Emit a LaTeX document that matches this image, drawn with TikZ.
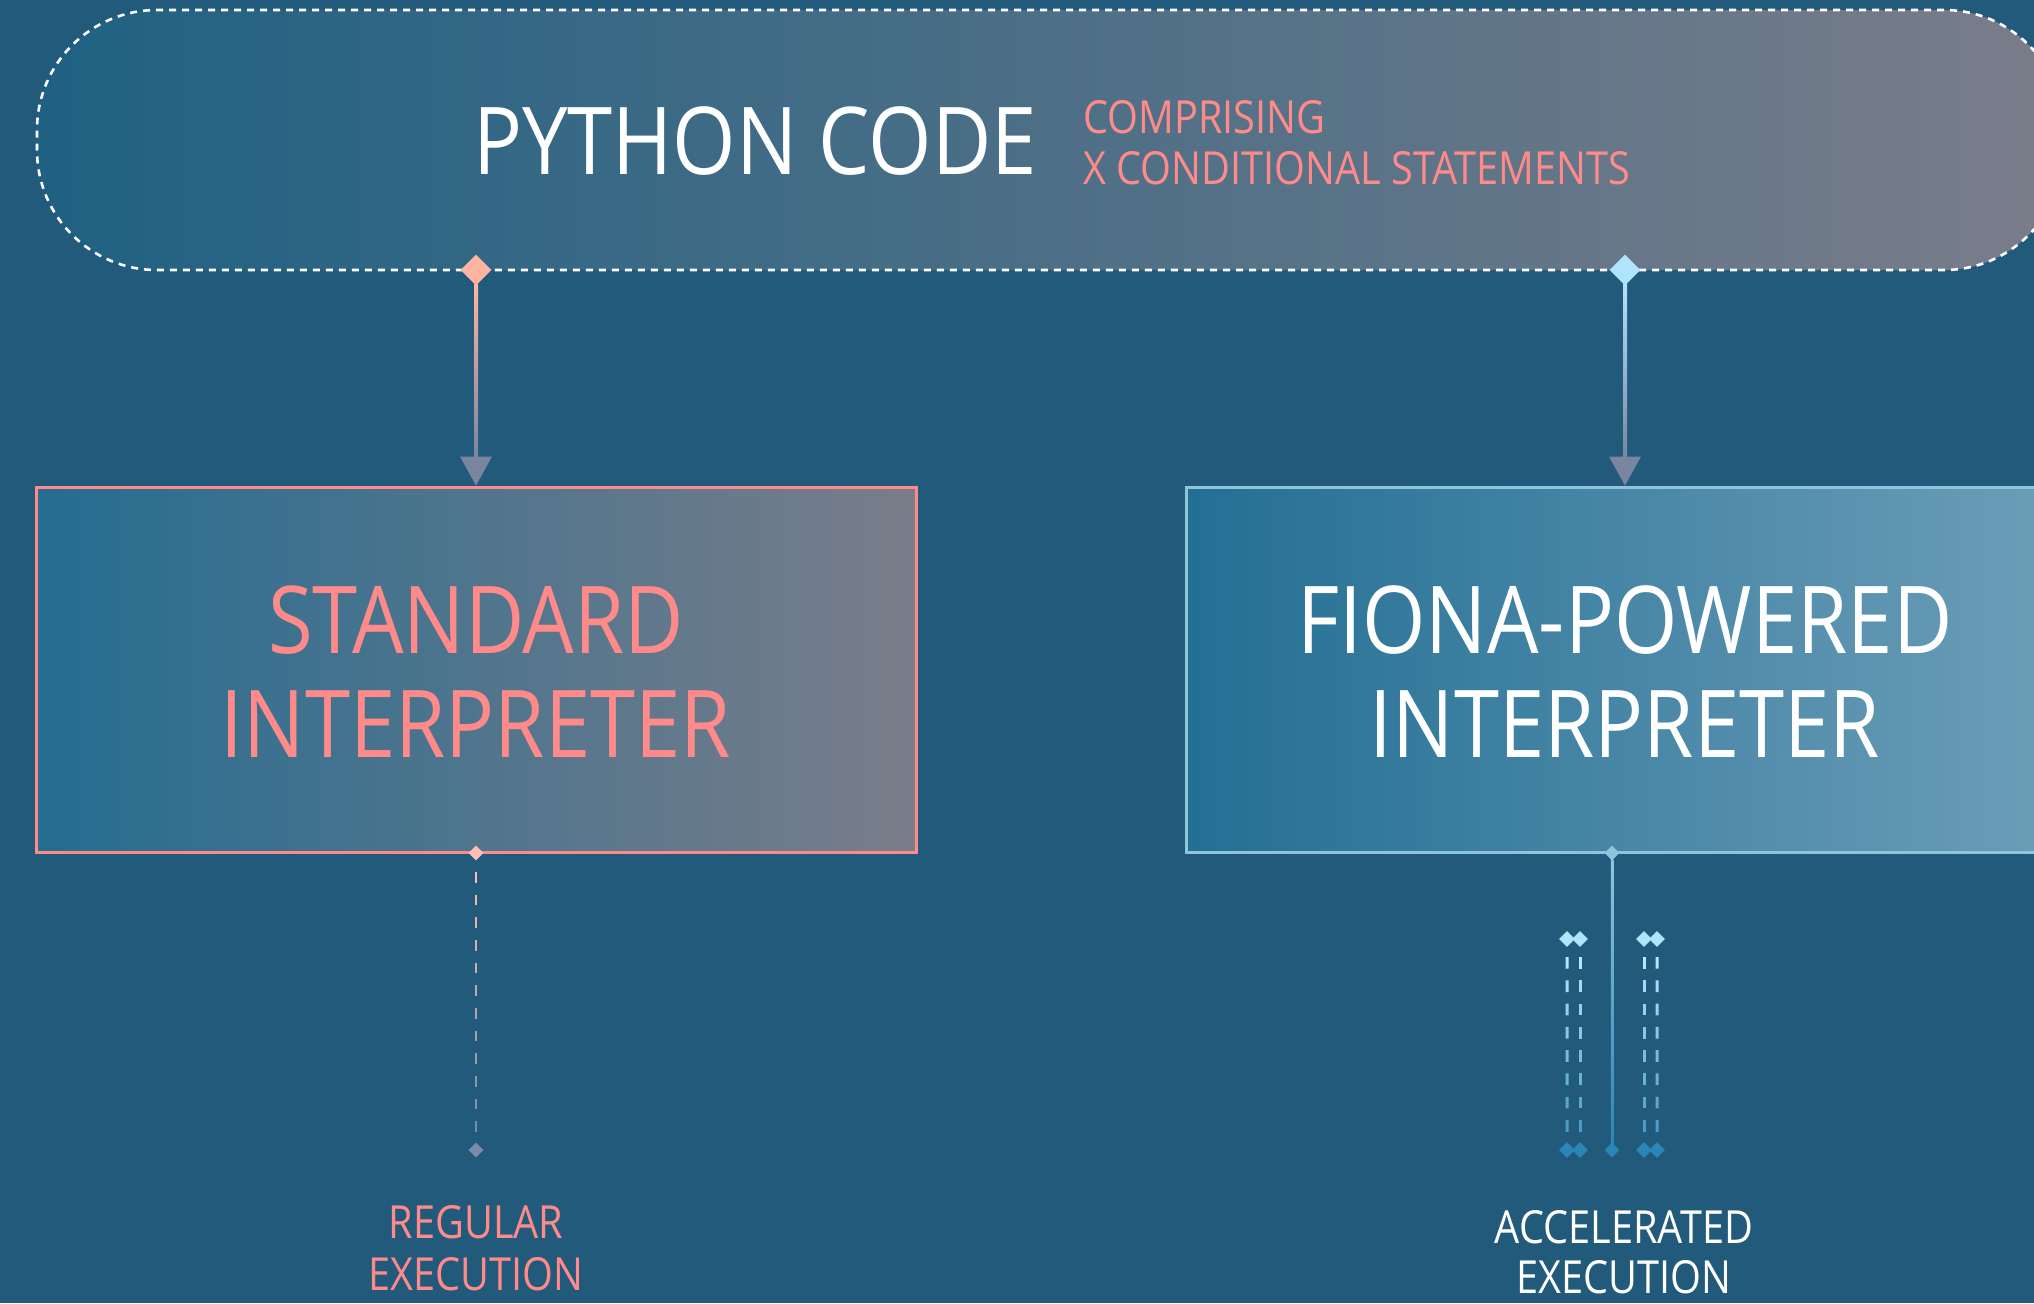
\documentclass[tikz,border=0pt]{standalone}
\usepackage{fontspec}
\setmainfont[FakeStretch=0.87]{Open Sans}
\usetikzlibrary{shapes.geometric,calc}

\definecolor{bg}{HTML}{225A7B}
\definecolor{pillL}{HTML}{1F6183}
\definecolor{pillR}{HTML}{7A7D8A}
\definecolor{stdL}{HTML}{256D91}
\definecolor{stdR}{HTML}{7A7D8A}
\definecolor{fioL}{HTML}{236F94}
\definecolor{fioR}{HTML}{6D9EB8}
\definecolor{salmon}{HTML}{FF8A8A}
\definecolor{peach}{HTML}{FFB4A2}
\definecolor{sky}{HTML}{B0E4FB}
\definecolor{frost}{HTML}{8EC5DC}
\definecolor{slate}{HTML}{7A859F}
\definecolor{deepsky}{HTML}{2A86B6}
\definecolor{dusk}{HTML}{7B8BAB}

\tikzset{
  pill/.style={draw=white, line width=1.3pt, dash pattern=on 3.5pt off 3pt,
    left color=pillL, right color=pillR, rounded corners=60pt,
    minimum width=1013.5pt, minimum height=130pt, inner sep=0pt},
  panel/.style={line width=1.5pt, minimum width=#1, minimum height=182.5pt, inner sep=0pt},
  gem/.style={diamond, inner sep=0pt, minimum width=#1, minimum height=#1},
  bigtext/.style={font=\fontsize{46.8pt}{52pt}\selectfont, align=center, inner sep=0pt},
  smalltext/.style={font=\fontsize{22.8pt}{25.5pt}\selectfont, inner sep=0pt},
  dashseg/.style={line width=#1},
}

% a run of separate dashes between two nodes, shaded from one colour to another
% #1 from, #2 to, #3 last index, #4 first start, #5 period, #6 dash length (fractions),
% #7 top colour, #8 bottom colour, #9 width
\newcommand\shadeddashes[9]{%
  \foreach \i in {0,...,#3}{%
    \pgfmathsetmacro\ta{#4+\i*#5}%
    \pgfmathsetmacro\tb{\ta+#6}%
    \pgfmathtruncatemacro\mixv{100-100*\i/#3}%
    \draw[dashseg=#9, color=#7!\mixv!#8] ($(#1)!\ta!(#2)$) -- ($(#1)!\tb!(#2)$);
  }%
}

\begin{document}
\begin{tikzpicture}[x=0.5pt,y=0.5pt]
\useasboundingbox (0,0) rectangle (2034,-1303);
\clip (0,0) rectangle (2034,-1303);
\fill[bg] (0,0) rectangle (2034,-1303);

% source code capsule
\node[pill] (code) at (1050.5,-140) {};
\node[bigtext, text=white] (codetxt) at (755,-141.5) {PYTHON CODE};
\node[smalltext, text=salmon, align=left, anchor=west] (comp) at (1083,-142.5)
  {COMPRISING\\X CONDITIONAL STATEMENTS};

% the two interpreters
\node[panel=440pt, draw=salmon, left color=stdL, right color=stdR] (std) at (476,-669.5) {};
\node[bigtext, text=salmon] (stdtxt) at (476,-671.5) {STANDARD\\INTERPRETER};
\node[panel=439pt, draw=frost, left color=fioL, right color=fioR] (fio) at (1625,-669.5) {};
\node[bigtext, text=white] (fiotxt) at (1625,-671.5) {FIONA-POWERED\\INTERPRETER};

% feeds from the capsule
\node[gem=15.5pt, fill=peach] (srcA) at (476,-270) {};
\node[gem=15.5pt, fill=sky] (srcB) at (1625,-270) {};
\shade[top color=peach, bottom color=slate] ($(srcA)+(-2,-14)$) rectangle ($(std.north)+(2,28)$);
\fill[slate] ($(std.north)+(-16,29)$) -- ($(std.north)+(16,29)$) -- (std.north) -- cycle;
\shade[top color=sky, bottom color=slate] ($(srcB)+(-2,-14)$) rectangle ($(fio.north)+(2,28)$);
\fill[slate] ($(fio.north)+(-16,29)$) -- ($(fio.north)+(16,29)$) -- (fio.north) -- cycle;

% regular execution
\node[gem=7.5pt, fill=peach!85!white] (runA) at (476,-853) {};
\node[gem=7.5pt, fill=dusk] (endA) at (476,-1150) {};
\shadeddashes{runA}{endA}{11}{0.064}{0.0763}{0.036}{peach!90!white}{dusk}{1.35pt}
\node[smalltext, text=salmon, align=center, font=\fontsize{22.8pt}{26pt}\selectfont]
  (regtxt) at (476,-1248.5) {REGULAR\\EXECUTION};

% accelerated execution
\node[gem=7.5pt, fill=frost] (runB) at (1612,-853) {};
\node[gem=7.5pt, fill=deepsky] (endB) at (1612,-1150) {};
\shade[top color=frost, bottom color=deepsky] ($(runB)+(-1.25,-6)$) rectangle ($(endB)+(1.25,4)$);

\foreach \x [count=\k] in {1567,1580,1644,1657}{
  \node[gem=8pt, fill=sky] (pt\k) at (\x,-939) {};
  \node[gem=8pt, fill=deepsky] (pb\k) at (\x,-1150) {};
}
\foreach \k in {1,...,4}{
  \shadeddashes{pt\k}{pb\k}{7}{0.0853}{0.1104}{0.0555}{sky!90!white}{deepsky!75!sky}{1.5pt}
}
\node[smalltext, text=white, align=center, font=\fontsize{22.8pt}{25pt}\selectfont]
  (acctxt) at (1624,-1252) {ACCELERATED\\EXECUTION};
\end{tikzpicture}
\end{document}
